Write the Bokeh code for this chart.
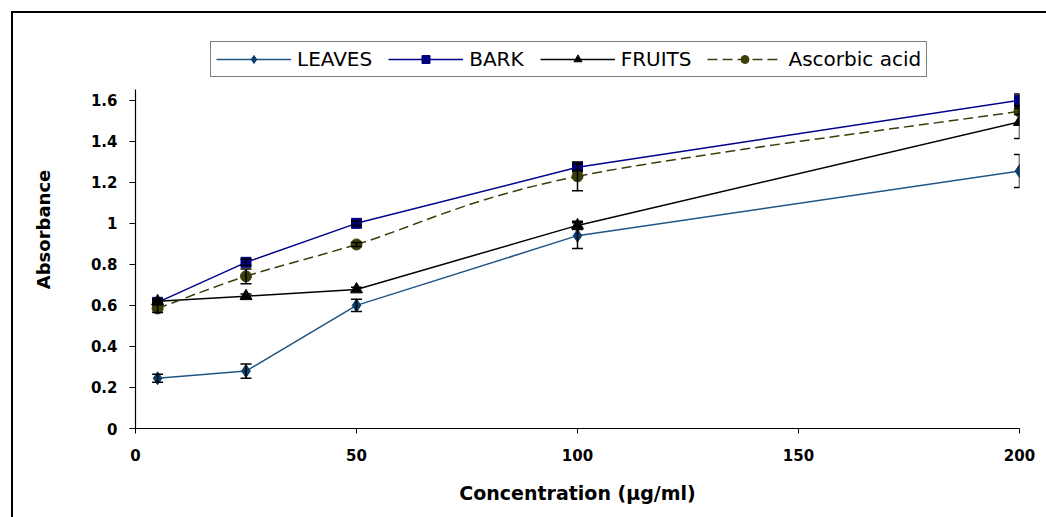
import numpy as np
from bokeh.plotting import figure
from bokeh.models import (ColumnDataSource, Whisker, TeeHead, Legend, LegendItem,
                          FixedTicker)
from bokeh.embed import file_html
from bokeh.resources import INLINE

# ---- data ----
conc = [5, 25, 50, 100, 200]
leaves = [0.245, 0.28, 0.60, 0.94, 1.255]
leaves_err = [0.02, 0.035, 0.03, 0.063, 0.08]
bark = [0.615, 0.81, 1.00, 1.273, 1.60]
bark_err = [0.01, 0.015, 0.01, 0.015, 0.03]
fruits = [0.62, 0.645, 0.678, 0.99, 1.494]
fruits_err = [0.01, 0.01, 0.01, 0.02, 0.08]
ascorbic = [0.585, 0.742, 0.897, 1.229, 1.546]
ascorbic_err = [0.02, 0.036, 0.01, 0.07, 0.015]

series_names = ["LEAVES", "BARK", "FRUITS", "Ascorbic acid"]
x_ticks = [0, 50, 100, 150, 200]
y_ticks = [0, 0.2, 0.4, 0.6, 0.8, 1.0, 1.2, 1.4, 1.6]
y_tick_labels = ["0", "0.2", "0.4", "0.6", "0.8", "1", "1.2", "1.4", "1.6"]
y_axis_top = 1.654

FONT = "DejaVu Sans"

p = figure(width=1060, height=540, x_range=(0, 200), y_range=(0, 1.94),
           output_backend="svg", toolbar_location=None,
           min_border_left=135, min_border_right=41, min_border_top=30, min_border_bottom=112)
p.styles = {"outline": "2px solid black", "outline-offset": "-13px"}
p.outline_line_color = None
p.xgrid.visible = False
p.ygrid.visible = False
p.background_fill_color = "white"
p.border_fill_color = None

# axes
for ax in (p.xaxis, p.yaxis):
    ax.axis_line_color = "black"
    ax.axis_line_width = 1.2
    ax.major_tick_line_color = "black"
    ax.minor_tick_line_color = None
    ax.major_tick_in = 0
    ax.major_label_text_font = FONT
    ax.major_label_text_font_style = "bold"
    ax.major_label_text_font_size = "15px"
    ax.major_label_text_color = "black"
    ax.axis_label_text_font = FONT
    ax.axis_label_text_font_style = "bold"
    ax.axis_label_text_color = "black"

p.xaxis.ticker = FixedTicker(ticks=x_ticks)
p.xaxis.major_tick_out = 5
p.xaxis.major_label_standoff = 15
p.xaxis.axis_label = "Concentration (µg/ml)"
p.xaxis.axis_label_text_font_size = "19px"
p.xaxis.axis_label_standoff = 18

p.yaxis.ticker = FixedTicker(ticks=y_ticks)
p.yaxis.bounds = (0, y_axis_top)
p.yaxis.major_label_overrides = {t: l for t, l in zip(y_ticks, y_tick_labels)}
p.yaxis.major_tick_out = 6
p.yaxis.major_label_standoff = 12
p.yaxis.axis_label = "Absorbance"
p.yaxis.axis_label_text_font_size = "18px"
p.yaxis.axis_label_standoff = 34


def whiskers(y, err):
    src = ColumnDataSource(dict(x=conc,
                                lo=[a - e for a, e in zip(y, err)],
                                hi=[a + e for a, e in zip(y, err)]))
    w = Whisker(source=src, base="x", lower="lo", upper="hi", dimension="height",
                line_color="black", line_width=1.5,
                upper_head=TeeHead(size=11, line_color="black", line_width=1.5),
                lower_head=TeeHead(size=11, line_color="black", line_width=1.5),
                level="glyph")
    p.add_layout(w)


for y, e in ((leaves, leaves_err), (bark, bark_err), (fruits, fruits_err), (ascorbic, ascorbic_err)):
    whiskers(y, e)

# LEAVES
c_leaves = "#1f5585"
l1 = p.line(conc, leaves, line_color=c_leaves, line_width=1.5)
m1 = p.scatter(conc, leaves, marker="diamond", size=13, fill_color="#0b3e6e", line_color="#0b3e6e")
# BARK
c_bark = "#00008b"
l2 = p.line(conc, bark, line_color=c_bark, line_width=1.5)
m2 = p.scatter(conc, bark, marker="square", size=10, fill_color="#000080", line_color="#000080")
# FRUITS
l3 = p.line(conc, fruits, line_color="black", line_width=1.5)
m3 = p.scatter(conc, fruits, marker="triangle", size=12, fill_color="black", line_color="black")

# Ascorbic acid: smoothed dashed curve (Catmull-Rom through the data points)
c_asc = "#3d3d0a"
xa = np.array(conc, dtype=float)
ya = np.array(ascorbic, dtype=float)
xp = np.concatenate([[xa[0]], xa, [xa[-1]]])
yp = np.concatenate([[ya[0]], ya, [ya[-1]]])
n = len(xa)
t = 1.0 / 6.0
bz = dict(x0=xa[:-1], y0=ya[:-1], x1=xa[1:], y1=ya[1:],
          cx0=xa[:-1] + (xp[2:n + 1] - xp[0:n - 1]) * t,
          cy0=ya[:-1] + (yp[2:n + 1] - yp[0:n - 1]) * t,
          cx1=xa[1:] - (xp[3:n + 2] - xp[1:n]) * t,
          cy1=ya[1:] - (yp[3:n + 2] - yp[1:n]) * t)
l4 = p.bezier(x0="x0", y0="y0", x1="x1", y1="y1", cx0="cx0", cy0="cy0", cx1="cx1", cy1="cy1",
              source=ColumnDataSource(bz), line_color=c_asc, line_width=1.5, line_dash="10 5")
m4 = p.scatter(conc, ascorbic, marker="circle", size=11, fill_color="#3d3d0a", line_color="#3d3d0a")

legend = Legend(items=[LegendItem(label=series_names[0], renderers=[l1, m1]),
                       LegendItem(label=series_names[1], renderers=[l2, m2]),
                       LegendItem(label=series_names[2], renderers=[l3, m3]),
                       LegendItem(label=series_names[3], renderers=[l4, m4])],
                orientation="horizontal", location=(75, 351),
                label_text_font=FONT, label_text_font_size="20px", label_text_color="black",
                glyph_width=75, glyph_height=20, label_height=20, label_standoff=6,
                spacing=16, padding=5, margin=0,
                border_line_color="black", border_line_width=1.2,
                background_fill_color="white", background_fill_alpha=1.0)
p.add_layout(legend, "center")

open("out.html", "w").write(file_html(p, INLINE))
